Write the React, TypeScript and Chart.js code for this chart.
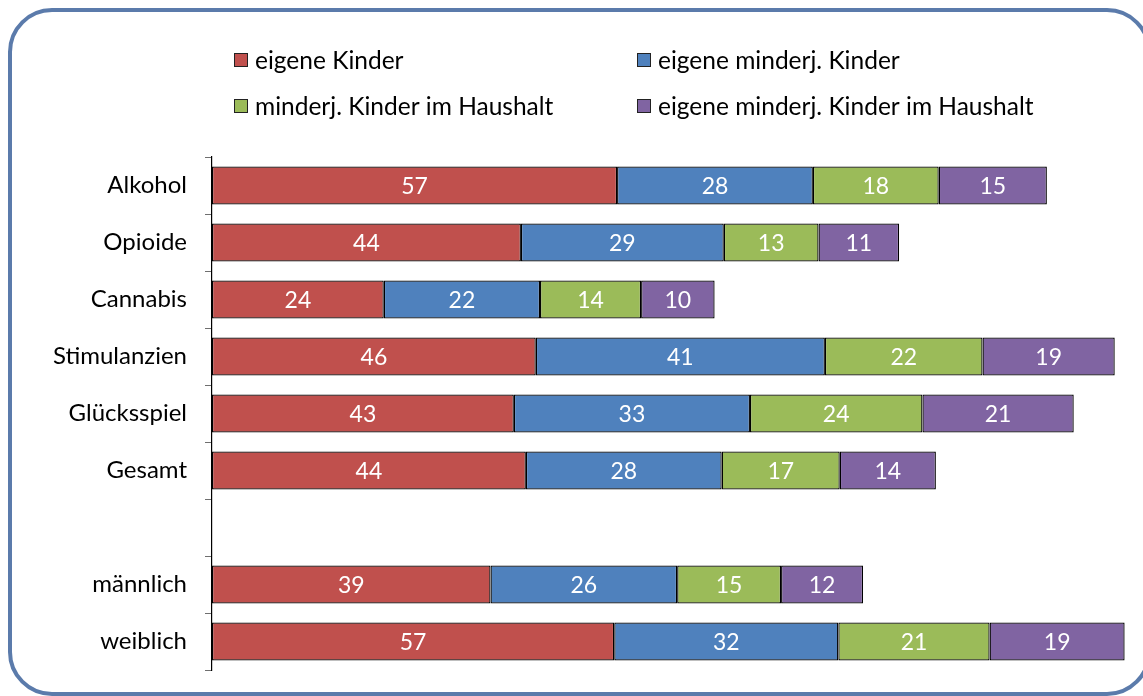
import React, { useEffect, useRef } from "react";
import { Chart, registerables } from "chart.js";

Chart.register(...registerables);

const categories = ["Alkohol", "Opioide", "Cannabis", "Stimulanzien", "Glücksspiel", "Gesamt", "", "männlich", "weiblich"];
const seriesNames = ["eigene Kinder", "eigene minderj. Kinder", "minderj. Kinder im Haushalt", "eigene minderj. Kinder im Haushalt"];
const eigeneKinder = [57.3, 43.7, 24.3, 45.8, 42.7, 44.4, null, 39.4, 56.9];
const eigeneMinderjKinder = [27.7, 28.7, 22.1, 40.9, 33.4, 27.7, null, 26.4, 31.7];
const minderjKinderHaushalt = [17.8, 13.4, 14.3, 22.3, 24.4, 16.7, null, 14.7, 21.4];
const eigeneMinderjKinderHaushalt = [15.3, 11.4, 10.4, 18.7, 21.4, 13.6, null, 11.6, 19.1];
const colors = ["#C0504D", "#4F81BD", "#9BBB59", "#8064A2"];

const FONT = "Lato, 'Open Sans', sans-serif";

const valueLabels = {
  id: "valueLabels",
  afterDatasetsDraw(chart: any) {
    const ctx = chart.ctx;
    ctx.save();
    ctx.font = `23px ${FONT}`;
    ctx.fillStyle = "#ffffff";
    ctx.textAlign = "center";
    ctx.textBaseline = "middle";
    chart.data.datasets.forEach((ds: any, di: number) => {
      const meta = chart.getDatasetMeta(di);
      meta.data.forEach((el: any, i: number) => {
        const v = ds.data[i];
        if (v == null) return;
        const cx = (el.x + el.base) / 2;
        ctx.fillText(String(Math.round(v)), cx, el.y + 1);
      });
    });
    ctx.restore();
  },
};

const gridLegend = {
  id: "gridLegend",
  afterDraw(chart: any) {
    const ctx = chart.ctx;
    const left = chart.chartArea.left;
    ctx.save();
    ctx.font = `24.5px ${FONT}`;
    ctx.textBaseline = "middle";
    ctx.textAlign = "left";
    chart.data.datasets.forEach((ds: any, i: number) => {
      const col = i % 2;
      const row = Math.floor(i / 2);
      const x = left + 22 + col * 403;
      const y = 60 + row * 46;
      ctx.fillStyle = ds.backgroundColor;
      ctx.fillRect(x, y - 7, 14, 14);
      ctx.strokeStyle = "#222";
      ctx.lineWidth = 1;
      ctx.strokeRect(x + 0.5, y - 6.5, 13, 13);
      ctx.fillStyle = "#000";
      ctx.fillText(ds.label, x + 21, y + 1);
    });
    ctx.restore();
  },
};

export default function App() {
  const ref = useRef<HTMLCanvasElement | null>(null);
  useEffect(() => {
    if (!ref.current) return;
    const seriesData = [eigeneKinder, eigeneMinderjKinder, minderjKinderHaushalt, eigeneMinderjKinderHaushalt];
    const chart = new Chart(ref.current, {
      type: "bar",
      data: {
        labels: categories,
        datasets: seriesData.map((d, i) => ({
          label: seriesNames[i],
          data: d,
          backgroundColor: colors[i],
          borderColor: "#000",
          borderWidth: 1.3,
          borderSkipped: false,
          categoryPercentage: 1,
          barPercentage: 0.667,
        })),
      },
      options: {
        indexAxis: "y",
        responsive: false,
        animation: false,
        layout: { padding: { top: 157, bottom: 26, left: 0, right: 12 } },
        plugins: {
          legend: { display: false },
          tooltip: { enabled: false },
        },
        scales: {
          x: {
            stacked: true,
            display: false,
            min: 0,
            max: 130,
          },
          y: {
            stacked: true,
            afterFit(scale: any) {
              scale.width = 212;
              scale.paddingTop = 0;
              scale.paddingBottom = 0;
            },
            grid: {
              drawOnChartArea: false,
              drawTicks: true,
              tickLength: 7,
              color: "#6f6f6f",
              offset: true,
            },
            border: { display: true, color: "#000", width: 1.2 },
            ticks: {
              color: "#000",
              padding: 18,
              font: { size: 24, family: FONT },
            },
          },
        },
      },
      plugins: [valueLabels, gridLegend],
    } as any);
    return () => chart.destroy();
  }, []);

  return (
    <div style={{ position: "fixed", left: 0, top: 0, width: 1143, height: 696, overflow: "hidden", background: "#fff" }}>
      <div
        style={{
          position: "absolute",
          left: 8,
          top: 8,
          width: 1143,
          height: 688,
          boxSizing: "border-box",
          border: "4px solid #5B7BAB",
          borderRadius: 44,
        }}
      />
      <canvas ref={ref} width={1143} height={696} style={{ position: "absolute", left: 0, top: 0 }} />
    </div>
  );
}
